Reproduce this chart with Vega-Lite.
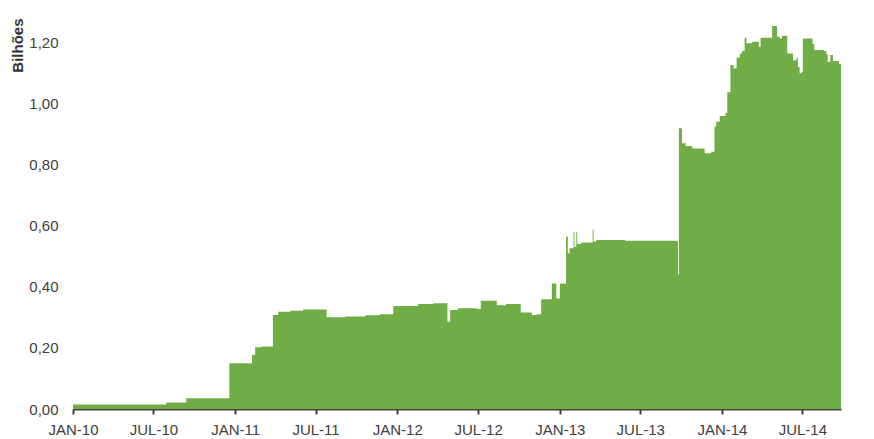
{
  "$schema": "https://vega.github.io/schema/vega-lite/v6.json",
  "autosize": {"type": "none"},
  "padding": {"left": 73, "top": 18, "right": 33, "bottom": 30},
  "width": 768,
  "height": 391,
  "background": "white",
  "config": {"view": {"stroke": null}, "font": "Liberation Sans"},
  "data": {
    "values": [
      {"date": "2010-01-01", "v": 0.015},
      {"date": "2010-07-30", "v": 0.021},
      {"date": "2010-09-13", "v": 0.035},
      {"date": "2010-12-19", "v": 0.150},
      {"date": "2011-02-08", "v": 0.177},
      {"date": "2011-02-15", "v": 0.202},
      {"date": "2011-03-01", "v": 0.205},
      {"date": "2011-03-27", "v": 0.308},
      {"date": "2011-04-08", "v": 0.318},
      {"date": "2011-05-05", "v": 0.322},
      {"date": "2011-06-03", "v": 0.326},
      {"date": "2011-07-26", "v": 0.300},
      {"date": "2011-09-06", "v": 0.303},
      {"date": "2011-10-21", "v": 0.307},
      {"date": "2011-11-23", "v": 0.310},
      {"date": "2011-12-23", "v": 0.337},
      {"date": "2012-02-17", "v": 0.344},
      {"date": "2012-03-22", "v": 0.346},
      {"date": "2012-04-23", "v": 0.286},
      {"date": "2012-04-29", "v": 0.324},
      {"date": "2012-05-16", "v": 0.330},
      {"date": "2012-06-28", "v": 0.327},
      {"date": "2012-07-07", "v": 0.354},
      {"date": "2012-08-12", "v": 0.340},
      {"date": "2012-09-02", "v": 0.344},
      {"date": "2012-10-05", "v": 0.316},
      {"date": "2012-10-30", "v": 0.308},
      {"date": "2012-11-10", "v": 0.310},
      {"date": "2012-11-20", "v": 0.359},
      {"date": "2012-12-14", "v": 0.411},
      {"date": "2012-12-24", "v": 0.362},
      {"date": "2013-01-01", "v": 0.411},
      {"date": "2013-01-15", "v": 0.564},
      {"date": "2013-01-19", "v": 0.510},
      {"date": "2013-01-23", "v": 0.526},
      {"date": "2013-02-01", "v": 0.580},
      {"date": "2013-02-03", "v": 0.530},
      {"date": "2013-02-07", "v": 0.580},
      {"date": "2013-02-09", "v": 0.540},
      {"date": "2013-02-18", "v": 0.545},
      {"date": "2013-03-16", "v": 0.588},
      {"date": "2013-03-18", "v": 0.548},
      {"date": "2013-03-24", "v": 0.553},
      {"date": "2013-05-28", "v": 0.551},
      {"date": "2013-09-22", "v": 0.548},
      {"date": "2013-09-24", "v": 0.440},
      {"date": "2013-09-26", "v": 0.919},
      {"date": "2013-10-03", "v": 0.870},
      {"date": "2013-10-11", "v": 0.861},
      {"date": "2013-10-26", "v": 0.853},
      {"date": "2013-11-23", "v": 0.837},
      {"date": "2013-12-08", "v": 0.842},
      {"date": "2013-12-15", "v": 0.924},
      {"date": "2013-12-19", "v": 0.940},
      {"date": "2013-12-27", "v": 0.959},
      {"date": "2014-01-09", "v": 0.970},
      {"date": "2014-01-13", "v": 1.037},
      {"date": "2014-01-20", "v": 1.126},
      {"date": "2014-01-27", "v": 1.115},
      {"date": "2014-02-03", "v": 1.150},
      {"date": "2014-02-10", "v": 1.164},
      {"date": "2014-02-15", "v": 1.172},
      {"date": "2014-02-21", "v": 1.215},
      {"date": "2014-02-25", "v": 1.197},
      {"date": "2014-03-10", "v": 1.202},
      {"date": "2014-03-25", "v": 1.186},
      {"date": "2014-03-29", "v": 1.215},
      {"date": "2014-04-24", "v": 1.254},
      {"date": "2014-05-05", "v": 1.219},
      {"date": "2014-05-11", "v": 1.213},
      {"date": "2014-05-16", "v": 1.222},
      {"date": "2014-05-28", "v": 1.164},
      {"date": "2014-06-10", "v": 1.142},
      {"date": "2014-06-18", "v": 1.150},
      {"date": "2014-06-21", "v": 1.120},
      {"date": "2014-06-25", "v": 1.099},
      {"date": "2014-06-29", "v": 1.104},
      {"date": "2014-07-02", "v": 1.213},
      {"date": "2014-07-24", "v": 1.194},
      {"date": "2014-07-28", "v": 1.175},
      {"date": "2014-08-18", "v": 1.172},
      {"date": "2014-08-24", "v": 1.161},
      {"date": "2014-08-27", "v": 1.137},
      {"date": "2014-09-02", "v": 1.159},
      {"date": "2014-09-08", "v": 1.139},
      {"date": "2014-09-21", "v": 1.130},
      {"date": "2014-09-26", "v": 1.115}
    ],
    "format": {"parse": {"date": "utc:'%Y-%m-%d'"}}
  },
  "mark": {"type": "area", "interpolate": "step-after", "color": "#70AD47", "clip": true},
  "encoding": {
    "x": {
      "field": "date",
      "type": "temporal",
      "scale": {
        "type": "utc",
        "domain": [
          {"year": 2010, "month": 1, "date": 1, "utc": true},
          {"year": 2014, "month": 9, "date": 26, "utc": true}
        ]
      },
      "axis": {
        "title": null,
        "grid": false,
        "values": [
          {"year": 2010, "month": 1, "date": 1, "utc": true},
          {"year": 2010, "month": 7, "date": 1, "utc": true},
          {"year": 2011, "month": 1, "date": 1, "utc": true},
          {"year": 2011, "month": 7, "date": 1, "utc": true},
          {"year": 2012, "month": 1, "date": 1, "utc": true},
          {"year": 2012, "month": 7, "date": 1, "utc": true},
          {"year": 2013, "month": 1, "date": 1, "utc": true},
          {"year": 2013, "month": 7, "date": 1, "utc": true},
          {"year": 2014, "month": 1, "date": 1, "utc": true},
          {"year": 2014, "month": 7, "date": 1, "utc": true}
        ],
        "labelExpr": "upper(utcFormat(datum.value, '%b-%y'))",
        "labelFontSize": 15,
        "labelColor": "#404040",
        "labelPadding": 8,
        "labelFlush": false,
        "labelOverlap": false,
        "domainColor": "#404040",
        "domainWidth": 2,
        "tickColor": "#404040",
        "tickWidth": 2,
        "tickSize": 5
      }
    },
    "y": {
      "field": "v",
      "type": "quantitative",
      "scale": {"domain": [0, 1.28], "nice": false},
      "axis": {
        "title": "Bilhões",
        "titleFontSize": 15,
        "titleFontWeight": "bold",
        "titleColor": "#333333",
        "titleAngle": -90,
        "titleAlign": "right",
        "titleBaseline": "alphabetic",
        "titleX": -51,
        "titleY": 0,
        "grid": false,
        "domain": false,
        "ticks": false,
        "tickSize": 0,
        "values": [0, 0.2, 0.4, 0.6, 0.8, 1.0, 1.2],
        "labelExpr": "replace(format(datum.value, '.2f'), '.', ',')",
        "labelFontSize": 15,
        "labelColor": "#404040",
        "labelPadding": 15
      }
    }
  }
}
